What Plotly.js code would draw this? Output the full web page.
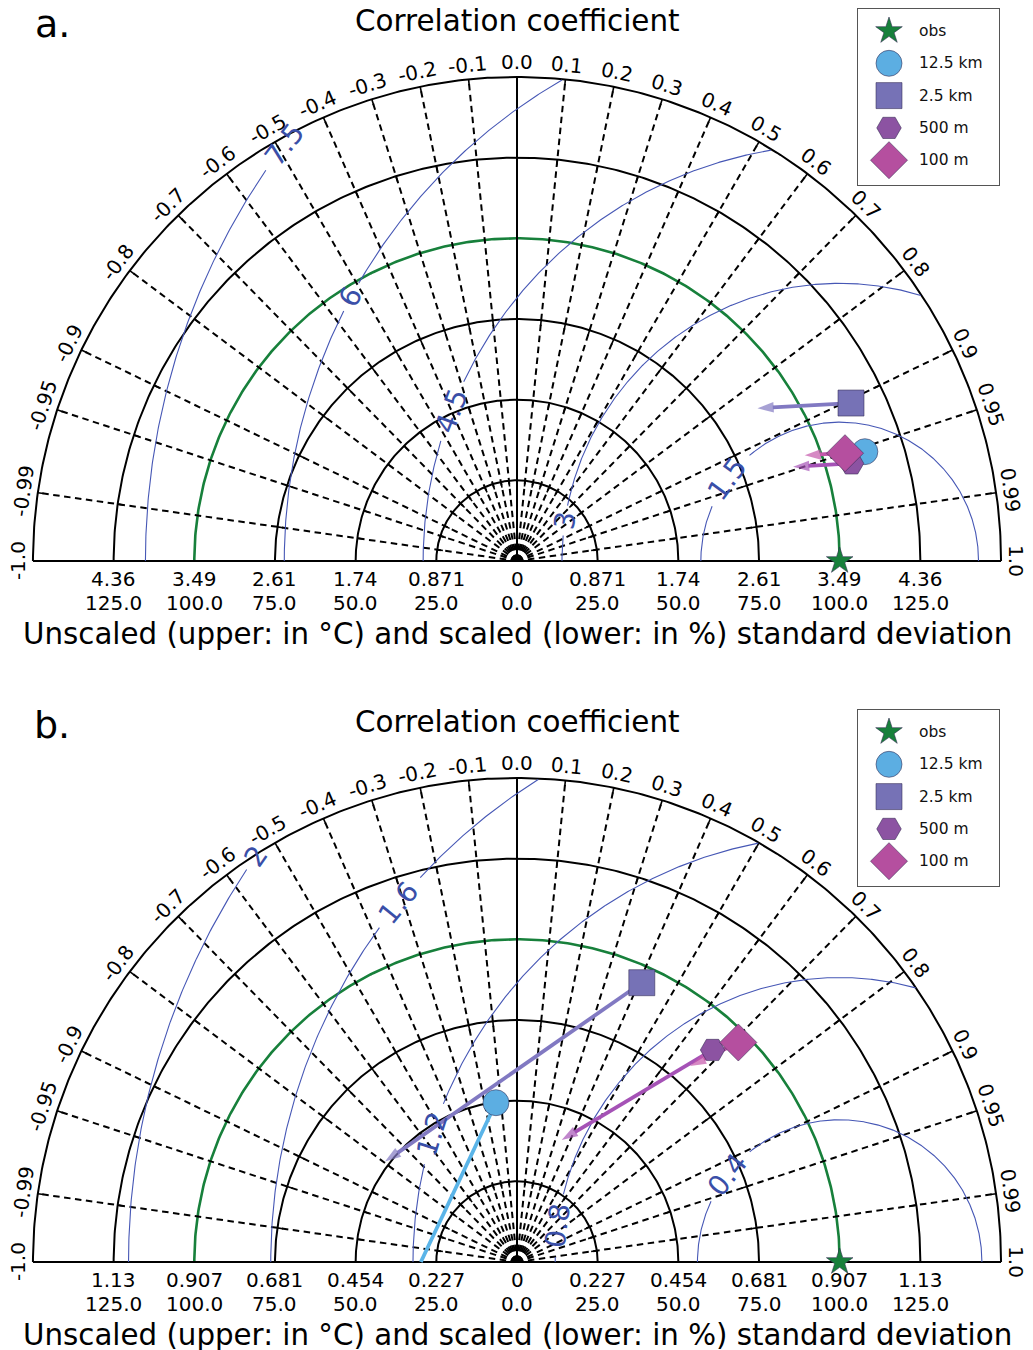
<!DOCTYPE html>
<html><head><meta charset="utf-8">
<script src="https://cdn.plot.ly/plotly-3.0.1.min.js"></script>
<style>html,body{margin:0;padding:0;background:#fff}</style>
</head><body>
<div id="chart" style="width:1033px;height:1350px"></div>
<script>
// ---------------- data ----------------
const seriesNames   = ['obs', '12.5 km', '2.5 km', '500 m', '100 m'];
const seriesSymbols = ['star', 'circle', 'square', 'hexagon2', 'diamond'];
const seriesColors  = ['#17803b', '#5caee2', '#7672b6', '#8c53a2', '#b54f9f'];
const seriesSizes   = [20, 26, 26, 24.5, 28.5];
const arrowColors   = ['#17803b', '#5ab4e8', '#8179c2', '#a552b6', '#c457ab'];

const corrTicks    = [-1.0, -0.99, -0.95, -0.9, -0.8, -0.7, -0.6, -0.5, -0.4, -0.3, -0.2, -0.1, 0.0,
                      0.1, 0.2, 0.3, 0.4, 0.5, 0.6, 0.7, 0.8, 0.9, 0.95, 0.99, 1.0];
const corrTickText = ['-1.0', '-0.99', '-0.95', '-0.9', '-0.8', '-0.7', '-0.6', '-0.5', '-0.4', '-0.3', '-0.2', '-0.1', '0.0',
                      '0.1', '0.2', '0.3', '0.4', '0.5', '0.6', '0.7', '0.8', '0.9', '0.95', '0.99', '1.0'];
const stdRings     = [25, 50, 75, 100, 125, 150];
const stdTickPos   = [-125, -100, -75, -50, -25, 0, 25, 50, 75, 100, 125];
const pctTickText  = ['125.0', '100.0', '75.0', '50.0', '25.0', '0.0', '25.0', '50.0', '75.0', '100.0', '125.0'];
const unscaledTickTextA = ['4.36', '3.49', '2.61', '1.74', '0.871', '0', '0.871', '1.74', '2.61', '3.49', '4.36'];
const unscaledTickTextB = ['1.13', '0.907', '0.681', '0.454', '0.227', '0', '0.227', '0.454', '0.681', '0.907', '1.13'];

const obsStdA = 3.486;   // degC = 100 %
const obsStdB = 0.9075;

const rmsLevelsA     = [1.5, 3, 4.5, 6, 7.5];
const rmsLabelTextA  = ['1.5', '3', '4.5', '6', '7.5'];
const rmsLabelAngleA = [143.7, 171.6, 158.9, 151.6, 143.1];
const rmsLevelsB     = [0.4, 0.8, 1.2, 1.6, 2];
const rmsLabelTextB  = ['0.4', '0.8', '1.2', '1.6', '2'];
const rmsLabelAngleB = [142.0, 172.6, 162.5, 140.8, 145.2];

// panel a: normalised std (%) and correlation of each series
const stdA  = [100, 113.0, 114.5, 108.0, 107.0];
const corrA = [1.0, 0.954, 0.904, 0.960, 0.950];
const arrowStdA  = [null, null, 88.3, 90.4, 95.0];
const arrowCorrA = [null, null, 0.844, 0.9465, 0.9386];
const arrowHeadA = [false, false, true, true, true];

// panel b
const stdB  = [100, 49.8, 94.8, 89.4, 96.6];
const corrB = [1.0, -0.131, 0.408, 0.678, 0.710];
const arrowStdB  = [null, 29.8, 51.4, 40.3, 81.0];
const arrowCorrB = [null, -1.0, -0.796, 0.344, 0.662];
const arrowHeadB = [false, false, true, true, true];

// ---------------- geometry ----------------
const W = 1033, H = 1350, S = 3.2269, CX = 517;
const FONT = 'DejaVu Sans, Liberation Sans, sans-serif';
const RMAX = 150;
const d2r = Math.PI / 180;

const traces = [];
const annotations = [];
const layout = {
  width: W, height: H, margin: {l: 0, r: 0, t: 0, b: 0},
  paper_bgcolor: '#fff', plot_bgcolor: 'rgba(0,0,0,0)',
  showlegend: false, hovermode: false, annotations: annotations
};

function hiddenAxis(extra) {
  return Object.assign({visible: true, showgrid: false, zeroline: false, showticklabels: false,
    ticks: '', showline: false, fixedrange: true}, extra);
}

function polar(r, c) {
  const th = Math.acos(Math.max(-1, Math.min(1, c)));
  return [r * Math.cos(th), r * Math.sin(th)];
}

function buildPanel(cfg) {
  const xa = cfg.xa, ya = cfg.ya;
  const xr = [-CX / S, (W - CX) / S];
  const yr = [(cfg.cy - cfg.bot) / S, (cfg.cy - cfg.top) / S];
  layout[cfg.xaName] = hiddenAxis({range: xr, domain: [0, 1], anchor: ya});
  layout[cfg.yaName] = hiddenAxis({range: yr, domain: [1 - cfg.bot / H, 1 - cfg.top / H], anchor: xa});
  const base = {xaxis: xa, yaxis: ya, type: 'scatter', mode: 'lines', hoverinfo: 'skip', cliponaxis: false};

  // std rings
  stdRings.forEach(r => {
    const x = [], y = [];
    for (let a = 0; a <= 180.001; a += 0.5) { x.push(r * Math.cos(a * d2r)); y.push(r * Math.sin(a * d2r)); }
    const green = (r === 100);
    traces.push(Object.assign({}, base, {x, y, line: {color: green ? '#17803b' : '#000', width: green ? 2.6 : 2}}));
  });

  // correlation rays
  corrTicks.forEach(c => {
    if (Math.abs(c) >= 1) return;
    const p = polar(RMAX, c);
    traces.push(Object.assign({}, base, {x: [0, p[0]], y: [0, p[1]],
      line: {color: '#000', width: c === 0 ? 2 : 2, dash: c === 0 ? 'solid' : '6.5px,4.5px'}}));
  });

  // small ticks on rings
  const tx = [], ty = [];
  [25, 50, 75, 125, 150].forEach(r => {
    corrTicks.forEach(c => {
      if (Math.abs(c) >= 1) return;
      const p0 = polar(r - 1.8, c), p1 = polar(r, c);
      tx.push(p0[0], p1[0], null); ty.push(p0[1], p1[1], null);
    });
  });
  traces.push(Object.assign({}, base, {x: tx, y: ty, line: {color: '#000', width: 1.6}}));

  // x axis baseline
  traces.push(Object.assign({}, base, {x: [-RMAX, RMAX], y: [0, 0], line: {color: '#000', width: 2.2}}));

  // RMSD contours centred on obs
  cfg.rmsLevels.forEach((v, i) => {
    const R = v / cfg.obsStd * 100;
    const aL = cfg.rmsAngles[i];
    const halfPx = cfg.rmsText[i].length * 8.5 + 6;
    const gap = halfPx / (R * S) / d2r;
    const x = [], y = [];
    for (let a = 0; a <= 180.001; a += 0.25) {
      const px = 100 + R * Math.cos(a * d2r), py = R * Math.sin(a * d2r);
      if (px * px + py * py <= RMAX * RMAX && Math.abs(a - aL) > gap) { x.push(px); y.push(py); }
      else { x.push(null); y.push(null); }
    }
    traces.push(Object.assign({}, base, {x, y, line: {color: '#4657b5', width: 1.1}}));
    const lx = 100 + R * Math.cos(aL * d2r), ly = R * Math.sin(aL * d2r);
    // tangent angle on screen
    let ang = -Math.atan2(Math.cos(aL * d2r), -Math.sin(aL * d2r)) / d2r;
    while (ang > 90) ang -= 180;
    while (ang < -90) ang += 180;
    annotations.push({xref: xa, yref: ya, x: lx, y: ly, text: cfg.rmsText[i], showarrow: false,
      textangle: ang, font: {family: FONT, size: 28, color: '#3a4fa8'}, xanchor: 'center', yanchor: 'middle'});
  });

  // arrows
  for (let k = 0; k < seriesNames.length; k++) {
    if (cfg.arrowStd[k] == null) continue;
    const p0 = polar(cfg.std[k], cfg.corr[k]);
    const p1 = polar(cfg.arrowStd[k], cfg.arrowCorr[k]);
    const head = cfg.arrowHead[k];
    traces.push(Object.assign({}, base, {x: [p0[0], p1[0]], y: [p0[1], p1[1]],
      mode: head ? 'lines+markers' : 'lines',
      line: {color: arrowColors[k], width: 3.8},
      marker: {symbol: 'arrow', angleref: 'previous', size: [0, 17], color: arrowColors[k], line: {width: 0}}}));
  }

  // markers (models then obs on top)
  const order = [1, 2, 3, 4, 0];
  order.forEach(k => {
    const p = polar(cfg.std[k], cfg.corr[k]);
    traces.push(Object.assign({}, base, {x: [p[0]], y: [p[1]], mode: 'markers',
      marker: {symbol: seriesSymbols[k], size: seriesSizes[k], color: seriesColors[k],
        line: {color: 'rgba(50,40,80,0.55)', width: 1}}}));
  });

  // correlation labels
  corrTicks.forEach((c, i) => {
    const th = Math.acos(c);
    const r = 154.6;
    annotations.push({xref: xa, yref: ya, x: r * Math.cos(th), y: r * Math.sin(th), text: corrTickText[i],
      showarrow: false, textangle: 90 - th / d2r, font: {family: FONT, size: 20, color: '#000'},
      xanchor: 'center', yanchor: 'middle'});
  });

  // std tick labels (two rows)
  stdTickPos.forEach((p, i) => {
    annotations.push({xref: xa, yref: ya, x: p, y: -18 / S, text: cfg.unscaled[i], showarrow: false,
      font: {family: FONT, size: 20, color: '#000'}, xanchor: 'center', yanchor: 'middle'});
    annotations.push({xref: xa, yref: ya, x: p, y: -42 / S, text: pctTickText[i], showarrow: false,
      font: {family: FONT, size: 20, color: '#000'}, xanchor: 'center', yanchor: 'middle'});
  });
  annotations.push({xref: xa, yref: ya, x: 0.3, y: -73 / S,
    text: 'Unscaled (upper: in °C) and scaled (lower: in %) standard deviation', showarrow: false,
    font: {family: FONT, size: 29.3, color: '#000'}, xanchor: 'center', yanchor: 'middle'});

  // panel title and letter
  annotations.push({xref: 'paper', yref: 'paper', x: 517 / W, y: 1 - (cfg.cy - 540) / H, text: 'Correlation coefficient',
    showarrow: false, font: {family: FONT, size: 29.4, color: '#000'}, xanchor: 'center', yanchor: 'middle'});
  annotations.push({xref: 'paper', yref: 'paper', x: 52 / W, y: 1 - (cfg.cy - 537) / H, text: cfg.letter,
    showarrow: false, font: {family: FONT, size: 38, color: '#000'}, xanchor: 'center', yanchor: 'middle'});

  // legend box (own axes)
  const lt = cfg.cy - 552, lb = cfg.cy - 376;
  layout[cfg.lxName] = hiddenAxis({range: [0, 141], domain: [858 / W, 999 / W], anchor: cfg.ly,
    showline: true, mirror: true, linecolor: '#555', linewidth: 1});
  layout[cfg.lyName] = hiddenAxis({range: [176, 0], domain: [1 - lb / H, 1 - lt / H], anchor: cfg.lx,
    showline: true, mirror: true, linecolor: '#555', linewidth: 1});
  seriesNames.forEach((n, k) => {
    const yy = 22 + k * 32.3;
    traces.push({xaxis: cfg.lx, yaxis: cfg.ly, type: 'scatter', mode: 'markers', hoverinfo: 'skip', cliponaxis: false,
      x: [31], y: [yy], marker: {symbol: seriesSymbols[k], size: seriesSizes[k], color: seriesColors[k],
        line: {color: 'rgba(50,40,80,0.55)', width: 1}}});
    annotations.push({xref: cfg.lx, yref: cfg.ly, x: 59, y: yy, text: n, showarrow: false,
      font: {family: FONT, size: 15.5, color: '#111'}, xanchor: 'left', yanchor: 'middle'});
  });
}

buildPanel({xa: 'x', ya: 'y', xaName: 'xaxis', yaName: 'yaxis', cy: 561, top: 0, bot: 650,
  lx: 'x3', ly: 'y3', lxName: 'xaxis3', lyName: 'yaxis3', letter: 'a.',
  obsStd: obsStdA, unscaled: unscaledTickTextA, rmsLevels: rmsLevelsA, rmsText: rmsLabelTextA, rmsAngles: rmsLabelAngleA,
  std: stdA, corr: corrA, arrowStd: arrowStdA, arrowCorr: arrowCorrA, arrowHead: arrowHeadA});
buildPanel({xa: 'x2', ya: 'y2', xaName: 'xaxis2', yaName: 'yaxis2', cy: 1262, top: 701, bot: 1350,
  lx: 'x4', ly: 'y4', lxName: 'xaxis4', lyName: 'yaxis4', letter: 'b.',
  obsStd: obsStdB, unscaled: unscaledTickTextB, rmsLevels: rmsLevelsB, rmsText: rmsLabelTextB, rmsAngles: rmsLabelAngleB,
  std: stdB, corr: corrB, arrowStd: arrowStdB, arrowCorr: arrowCorrB, arrowHead: arrowHeadB});

Plotly.newPlot('chart', traces, layout, {displayModeBar: false, staticPlot: true});
</script>
</body></html>
